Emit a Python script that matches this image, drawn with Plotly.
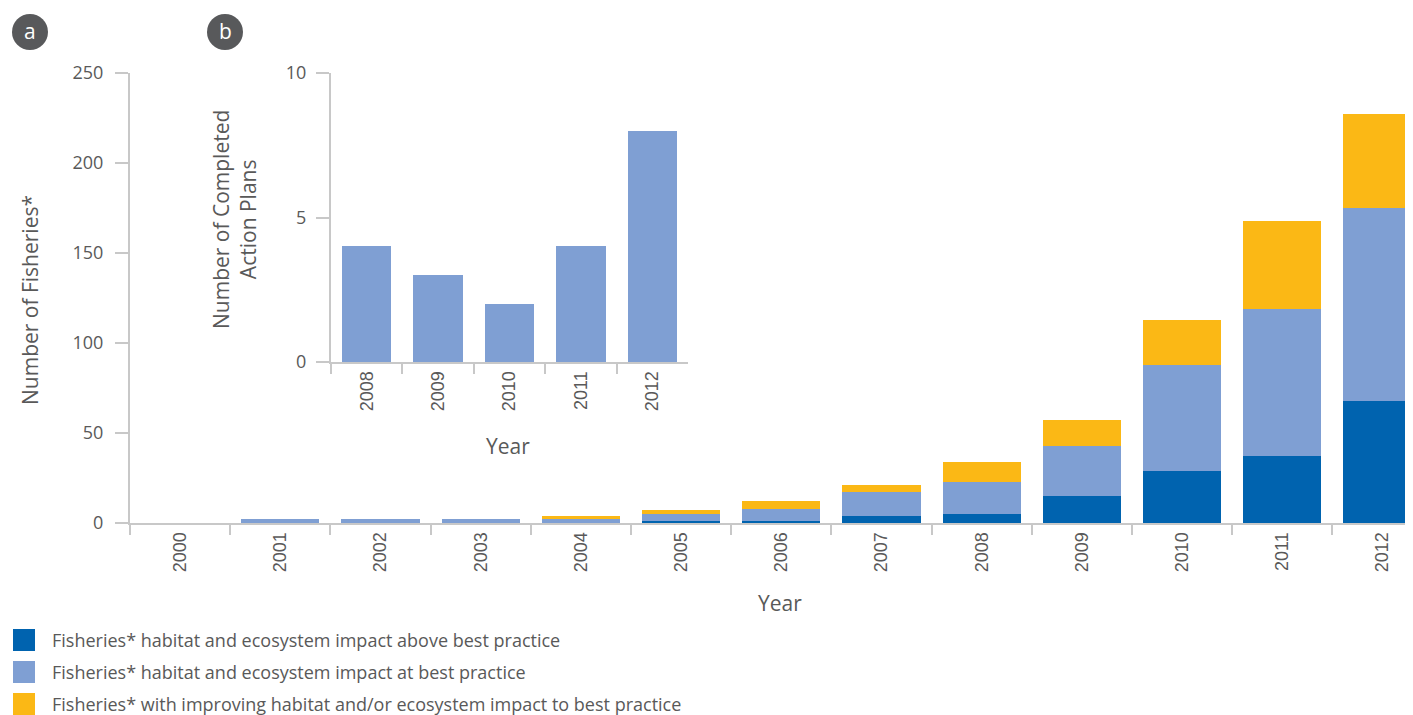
import plotly.graph_objects as go

# ---- data ----
years = ["2000", "2001", "2002", "2003", "2004", "2005", "2006",
         "2007", "2008", "2009", "2010", "2011", "2012"]
above_best = [0, 0, 0, 0, 0, 1, 1, 4, 5, 15, 29, 37, 68]
at_best = [0, 2, 2, 2, 2, 4, 7, 13, 18, 28, 59, 82, 107]
improving = [0, 0, 0, 0, 2, 2, 4, 4, 11, 14, 25, 49, 52]

inset_years = ["2008", "2009", "2010", "2011", "2012"]
action_plans = [4, 3, 2, 4, 8]

main_yticks = [0, 50, 100, 150, 200, 250]
inset_yticks = [0, 5, 10]

series_names = [
    "Fisheries* habitat and ecosystem impact above best practice",
    "Fisheries* habitat and ecosystem impact at best practice",
    "Fisheries* with improving habitat and/or ecosystem impact to best practice",
]
colors = ["#0063AF", "#7F9FD3", "#FBB815"]

# ---- layout geometry (page pixels; the page body has an 8px margin) ----
OFF = 8
W, H = 1413 - OFF, 715 - OFF
L, R, T, B = 130, 1413, 73, 523  # page pixels


def px_x(p):
    return (p - L) / (R - L)


def px_y(p):
    return (B - p) / (B - T)


AXC = "#c8c8c8"
TXT = "#595959"
FONT = "Open Sans"

fig = go.Figure()
for name, vals, col in zip(series_names, [above_best, at_best, improving], colors):
    fig.add_trace(go.Bar(x=years, y=vals, name=name, marker=dict(color=col, line=dict(width=0)),
                         width=0.78, xaxis="x", yaxis="y", showlegend=False))

fig.add_trace(go.Bar(x=inset_years, y=action_plans, marker=dict(color=colors[1], line=dict(width=0)),
                     width=0.69, xaxis="x2", yaxis="y2", showlegend=False))

cat_px = 100.2
fig.update_layout(
    width=W, height=H,
    margin=dict(l=L - OFF, r=W - (R - OFF), t=T - OFF, b=H - (B - OFF)),
    paper_bgcolor="white", plot_bgcolor="rgba(0,0,0,0)",
    barmode="stack",
    font=dict(family=FONT, color=TXT, size=18),
    xaxis=dict(domain=[0, 1], type="category", range=[-0.5, -0.5 + (R - L) / cat_px],
               showline=True, linecolor=AXC, linewidth=2,
               ticks="outside", tickson="boundaries", ticklen=10, tickcolor=AXC, tickwidth=2,
               tickangle=-90, tickfont=dict(family="Liberation Sans", size=18, color=TXT),
               showgrid=False, zeroline=False),
    yaxis=dict(domain=[0, 1], range=[0, 250], tickvals=main_yticks,
               showline=True, linecolor=AXC, linewidth=2,
               ticks="outside", ticklen=13, tickcolor=AXC, tickwidth=2,
               ticklabelstandoff=8,
               tickfont=dict(family=FONT, size=18, color=TXT),
               showgrid=False, zeroline=False),
    xaxis2=dict(domain=[px_x(331), px_x(688)], anchor="y2", type="category", range=[-0.5, 4.5],
                showline=True, linecolor=AXC, linewidth=2,
                ticks="outside", tickson="boundaries", ticklen=10, tickcolor=AXC, tickwidth=2,
                tickangle=-90, tickfont=dict(family="Liberation Sans", size=18, color=TXT),
                showgrid=False, zeroline=False),
    yaxis2=dict(domain=[px_y(362), 1.0], anchor="x2", range=[0, 10], tickvals=inset_yticks,
                showline=True, linecolor=AXC, linewidth=2,
                ticks="outside", ticklen=13, tickcolor=AXC, tickwidth=2,
                ticklabelstandoff=6,
                tickfont=dict(family=FONT, size=18, color=TXT),
                showgrid=False, zeroline=False),
)

ann = []
shapes = []
# axis titles
ann.append(dict(text="Number of Fisheries*", x=px_x(30), y=px_y(300), xref="paper", yref="paper",
                textangle=-90, showarrow=False, font=dict(size=21, color=TXT, family=FONT),
                xanchor="center", yanchor="middle"))
ann.append(dict(text="Year", x=px_x(780), y=px_y(603), xref="paper", yref="paper",
                showarrow=False, font=dict(size=21, color=TXT, family=FONT),
                xanchor="center", yanchor="middle"))
ann.append(dict(text="Number of Completed<br>Action Plans", x=px_x(234), y=px_y(220),
                xref="paper", yref="paper", textangle=-90, showarrow=False,
                font=dict(size=21, color=TXT, family=FONT), xanchor="center", yanchor="middle"))
ann.append(dict(text="Year", x=px_x(508), y=px_y(446), xref="paper", yref="paper",
                showarrow=False, font=dict(size=21, color=TXT, family=FONT),
                xanchor="center", yanchor="middle"))

# panel labels
for lab, cx in [("a", 30), ("b", 225)]:
    shapes.append(dict(type="circle", xref="paper", yref="paper",
                       x0=px_x(cx - 18), x1=px_x(cx + 18), y0=px_y(32 + 18), y1=px_y(32 - 18),
                       fillcolor="#58595b", line=dict(width=0)))
    ann.append(dict(text=lab, x=px_x(cx), y=px_y(31), xref="paper", yref="paper",
                    showarrow=False, font=dict(size=21, color="white", family=FONT),
                    xanchor="center", yanchor="middle"))

# legend
for i, (name, col) in enumerate(zip(series_names, colors)):
    cy = 640 + 32 * i
    shapes.append(dict(type="rect", xref="paper", yref="paper",
                       x0=px_x(13), x1=px_x(35), y0=px_y(cy + 11), y1=px_y(cy - 11),
                       fillcolor=col, line=dict(width=0)))
    ann.append(dict(text=name, x=px_x(50), y=px_y(cy), xref="paper", yref="paper",
                    showarrow=False, font=dict(size=18, color=TXT, family=FONT),
                    xanchor="left", yanchor="middle"))

fig.update_layout(annotations=ann, shapes=shapes)
fig.write_html("out.html")
